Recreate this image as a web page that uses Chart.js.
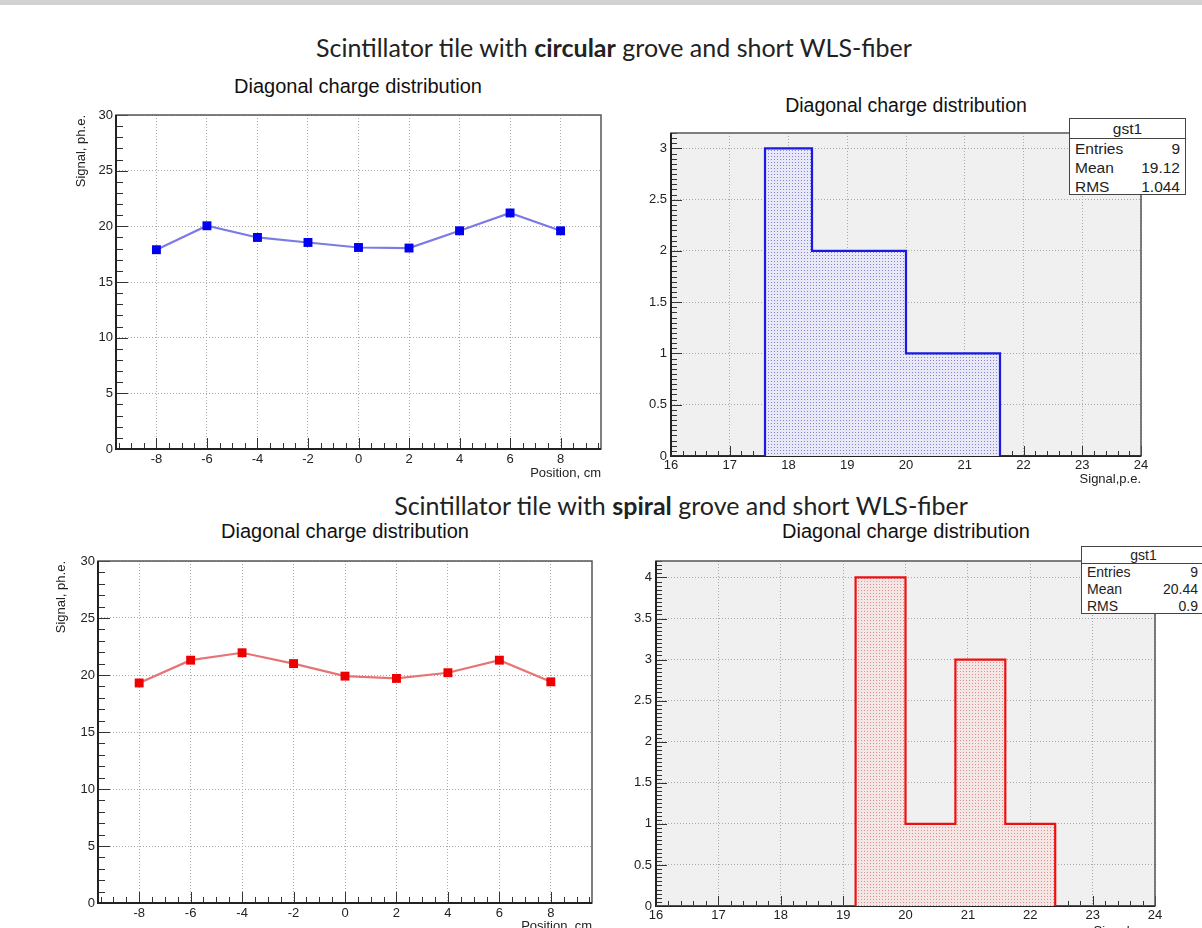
<!DOCTYPE html>
<html><head><meta charset="utf-8">
<script src="https://cdn.jsdelivr.net/npm/chart.js@4/dist/chart.umd.min.js"></script>
<style>
html,body{margin:0;padding:0;background:#fff;width:1202px;height:928px;overflow:hidden;position:relative;font-family:"Liberation Sans",Arial,sans-serif;}
#topbar{position:absolute;left:0;top:0;width:1202px;height:5px;background:#d2d2d2;}
.main{position:absolute;font-family:Lato,"Open Sans",sans-serif;font-size:25px;color:#222;white-space:nowrap;transform:translate(-50%,-50%);}
.ct{position:absolute;font-size:20px;color:#111;white-space:nowrap;transform:translate(-50%,-50%);}
canvas.cv{position:absolute;}
.stats{position:absolute;background:#fff;border:1px solid #444;color:#222;box-sizing:border-box;z-index:5;}
.stats .hd{text-align:center;border-bottom:1px solid #444;}
.stats .row{display:flex;justify-content:space-between;padding:0 5px;}
</style></head>
<body>
<div id="topbar"></div>
<div class="main" style="left:614px;top:47px;">Scintillator tile with <b>circular</b> grove and short WLS-fiber</div>
<div class="main" style="left:681px;top:505px;">Scintillator tile with <b>spiral</b> grove and short WLS-fiber</div>
<div class="ct" style="left:358px;top:86px;">Diagonal charge distribution</div>
<div class="ct" style="left:906px;top:105px;font-size:19.5px;">Diagonal charge distribution</div>
<div class="ct" style="left:345px;top:531px;">Diagonal charge distribution</div>
<div class="ct" style="left:906px;top:531px;">Diagonal charge distribution</div>

<canvas id="c1" class="cv"></canvas>
<canvas id="c2" class="cv"></canvas>
<canvas id="c3" class="cv"></canvas>
<canvas id="c4" class="cv"></canvas>

<div class="stats" style="left:1069px;top:118px;width:117px;height:77px;font-size:15.5px;line-height:19px;">
  <div class="hd" style="height:19px;">gst1</div>
  <div class="row"><span>Entries</span><span>9</span></div>
  <div class="row"><span>Mean</span><span>19.12</span></div>
  <div class="row"><span>RMS</span><span>1.044</span></div>
</div>
<div class="stats" style="left:1081px;top:546px;width:125px;height:68px;font-size:14px;line-height:17px;">
  <div class="hd" style="height:16px;line-height:16px;">gst1</div>
  <div class="row" style="padding-right:7px;"><span>Entries</span><span>9</span></div>
  <div class="row" style="padding-right:7px;"><span>Mean</span><span>20.44</span></div>
  <div class="row" style="padding-right:7px;"><span>RMS</span><span>0.9</span></div>
</div>

<script>
// ---- data ----
const positions = [-8, -6, -4, -2, 0, 2, 4, 6, 8];
const circularSignal = [17.9, 20.05, 19.0, 18.55, 18.1, 18.05, 19.6, 21.2, 19.6];
const spiralSignal = [19.3, 21.3, 21.95, 21.0, 19.9, 19.7, 20.2, 21.3, 19.4];
const binEdges = [16, 16.8, 17.6, 18.4, 19.2, 20.0, 20.8, 21.6, 22.4, 23.2, 24.0];
const circularCounts = [0, 0, 3, 2, 2, 1, 1, 0, 0, 0];
const spiralCounts = [0, 0, 0, 0, 4, 1, 3, 1, 0, 0];

Chart.defaults.font.family = '"Liberation Sans", Arial, sans-serif';
Chart.defaults.color = '#222';

function stepVals(min, max, step) {
  const v = [];
  const s = Math.ceil(min / step - 1e-9);
  for (let k = s; k * step <= max + 1e-9; k++) v.push(k * step);
  return v;
}

const rootFrame = {
  id: 'rootFrame',
  beforeDraw(chart, args, o) {
    const {ctx, chartArea: a} = chart;
    ctx.save();
    ctx.fillStyle = o.bg;
    ctx.fillRect(a.left, a.top, a.width, a.height);
    ctx.restore();
  },
  beforeDatasetsDraw(chart, args, o) {
    const {ctx, chartArea: a} = chart;
    const xs = chart.scales.x, ys = chart.scales.y;
    ctx.save();
    ctx.strokeStyle = '#333';
    ctx.lineWidth = 1;
    ctx.beginPath();
    stepVals(xs.min, xs.max, o.xMinor).forEach(v => {
      const px = Math.round(xs.getPixelForValue(v)) + 0.5;
      const isMaj = Math.abs(v / o.xMajor - Math.round(v / o.xMajor)) < 1e-6;
      const len = isMaj ? o.xMajLen : o.xMinLen;
      ctx.moveTo(px, a.bottom); ctx.lineTo(px, a.bottom - len);
    });
    stepVals(ys.min, ys.max, o.yMinor).forEach(v => {
      const py = Math.round(ys.getPixelForValue(v)) + 0.5;
      const isMaj = Math.abs(v / o.yMajor - Math.round(v / o.yMajor)) < 1e-6;
      const len = isMaj ? o.yMajLen : o.yMinLen;
      ctx.moveTo(a.left, py); ctx.lineTo(a.left + len, py);
    });
    ctx.stroke();
    ctx.strokeStyle = '#555';
    ctx.lineWidth = 1.5;
    ctx.strokeRect(a.left, a.top, a.width, a.height);
    ctx.strokeStyle = '#222';
    ctx.lineWidth = 2;
    ctx.beginPath();
    ctx.moveTo(a.left, a.top); ctx.lineTo(a.left, a.bottom); ctx.lineTo(a.right, a.bottom);
    ctx.stroke();
    ctx.restore();
  }
};
Chart.register(rootFrame);

function place(id, cl, ct, cw, ch) {
  const c = document.getElementById(id);
  c.width = cw; c.height = ch;
  c.style.left = cl + 'px'; c.style.top = ct + 'px';
  c.style.width = cw + 'px'; c.style.height = ch + 'px';
  return c;
}

function dotPattern(bg, dot) {
  const c = document.createElement('canvas');
  c.width = 3; c.height = 3;
  const x = c.getContext('2d');
  x.fillStyle = bg; x.fillRect(0, 0, 3, 3);
  x.fillStyle = dot; x.fillRect(1, 1, 1, 1);
  return x.createPattern(c, 'repeat');
}

const tickFont = {size: 13};
const axTitleFont = {size: 13};
const gridOpts = {color: '#a9a9a9', lineWidth: 1, drawTicks: false};
const borderOpts = {display: false, dash: [1, 2]};

function lineChart(id, rect, yTitleX, xTitleY, signal, lineColor, markColor) {
  const [L, T, R, B] = rect;
  const cl = Math.round(yTitleX - 7.8), ct = T - 12;
  const cr = R + 14, cb = Math.round(xTitleY + 7.8);
  const c = place(id, cl, ct, cr - cl, cb - ct);
  return new Chart(c, {
    type: 'line',
    data: {datasets: [{
      data: positions.map((p, i) => ({x: p, y: signal[i]})),
      borderColor: lineColor, borderWidth: 2.2, tension: 0,
      pointStyle: 'rect', pointRadius: 6.3, pointBackgroundColor: markColor,
      pointBorderColor: markColor, pointBorderWidth: 0
    }]},
    options: {
      animation: false, responsive: false, devicePixelRatio: 1,
      layout: {padding: {left: 0, top: T - ct, right: cr - R, bottom: 0}},
      plugins: {legend: {display: false}, tooltip: {enabled: false},
        rootFrame: {bg: '#ffffff', xMajor: 2, xMinor: 0.5, yMajor: 5, yMinor: 1,
                    xMajLen: 11, xMinLen: 6, yMajLen: 12, yMinLen: 7}},
      scales: {
        x: {type: 'linear', min: -9.6, max: 9.6,
            afterFit(s) { s.height = cb - B; },
            ticks: {stepSize: 2, includeBounds: false, font: tickFont, padding: 3, maxRotation: 0, autoSkip: false,
                    callback: v => String(v)},
            grid: gridOpts, border: borderOpts,
            title: {display: true, text: 'Position, cm', align: 'end', padding: 0, font: axTitleFont, color: '#222'}},
        y: {type: 'linear', min: 0, max: 30,
            afterFit(s) { s.width = L - cl; },
            ticks: {stepSize: 5, includeBounds: false, font: tickFont, padding: 3, callback: v => String(v)},
            grid: gridOpts, border: borderOpts,
            title: {display: true, text: 'Signal, ph.e.', align: 'end', padding: 0, font: axTitleFont, color: '#222'}}
      }
    }
  });
}

function histChart(id, rect, xTitleY, counts, yMax, lineColor, fill) {
  const [L, T, R, B] = rect;
  const cl = L - 45, ct = T - 14;
  const cr = R + 16, cb = Math.round(xTitleY + 7.8);
  const c = place(id, cl, ct, cr - cl, cb - ct);
  const pts = counts.map((n, i) => ({x: binEdges[i], y: n}));
  pts.push({x: binEdges[binEdges.length - 1], y: counts[counts.length - 1]});
  return new Chart(c, {
    type: 'line',
    data: {datasets: [{
      data: pts, stepped: true, borderColor: lineColor, borderWidth: 2.2,
      backgroundColor: fill, fill: 'origin', pointRadius: 0, tension: 0
    }]},
    options: {
      animation: false, responsive: false, devicePixelRatio: 1,
      layout: {padding: {left: 0, top: T - ct, right: cr - R, bottom: 0}},
      plugins: {legend: {display: false}, tooltip: {enabled: false},
        rootFrame: {bg: '#f0f0f0', xMajor: 1, xMinor: 0.2, yMajor: 0.5, yMinor: 0.05,
                    xMajLen: 10, xMinLen: 5, yMajLen: 11, yMinLen: 6}},
      scales: {
        x: {type: 'linear', min: binEdges[0], max: binEdges[binEdges.length - 1],
            afterFit(s) { s.height = cb - B; },
            ticks: {stepSize: 1, includeBounds: false, font: tickFont, padding: 2, maxRotation: 0, autoSkip: false,
                    callback: v => String(v)},
            grid: gridOpts, border: borderOpts,
            title: {display: true, text: 'Signal,p.e.', align: 'end', padding: 0, font: axTitleFont, color: '#222'}},
        y: {type: 'linear', min: 0, max: yMax,
            afterFit(s) { s.width = L - cl; },
            ticks: {stepSize: 0.5, includeBounds: false, font: tickFont, padding: 4, callback: v => String(v)},
            grid: gridOpts, border: borderOpts}
      }
    }
  });
}

lineChart('c1', [116, 115, 601, 449], 82, 473, circularSignal, '#7b7be6', '#0000ee');
histChart('c2', [671, 133, 1141, 456], 479, circularCounts, 3.15, '#1a1ae0',
          dotPattern('#e8e8f7', '#8484dc'));
lineChart('c3', [98, 561, 592, 903], 62, 926, spiralSignal, '#e67474', '#ee0000');
histChart('c4', [656, 561, 1155, 906], 931, spiralCounts, 4.2, '#ee1010',
          dotPattern('#f5e6e6', '#dc9090'));
</script>
</body></html>
